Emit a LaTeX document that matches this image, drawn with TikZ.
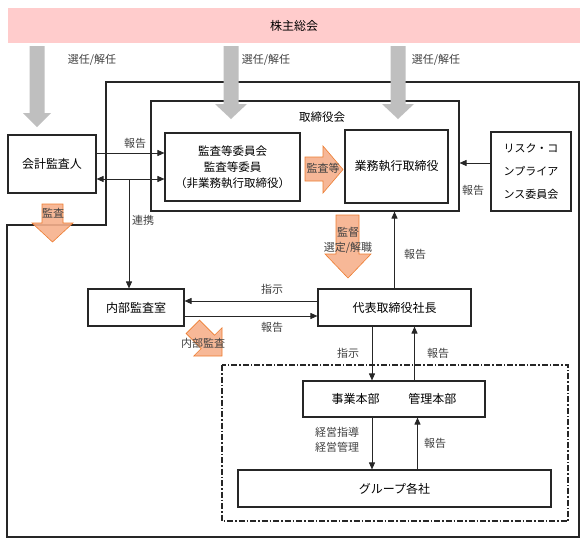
\documentclass[tikz,border=0pt]{standalone}
\usepackage{fontspec}
\setmainfont{Noto Sans CJK JP}
\usetikzlibrary{arrows.meta,calc}
\definecolor{pinkbar}{RGB}{255,204,204}
\definecolor{grayarr}{RGB}{191,191,191}
\definecolor{orfill}{RGB}{246,176,140}
\definecolor{ordraw}{RGB}{237,125,49}
\definecolor{lbltext}{RGB}{64,64,64}
\begin{document}
\begin{tikzpicture}[x=1pt,y=-1pt,
  box/.style={draw=black!85,line width=1.1pt,fill=white,inner sep=0pt,
    font=\fontsize{12}{15}\selectfont,align=center},
  lbl/.style={font=\fontsize{11}{12}\selectfont,text=lbltext,inner sep=0pt},
  arr/.style={line width=0.9pt,draw=black!85,-{Triangle[length=7pt,width=6pt]}},
  dbl/.style={line width=0.9pt,draw=black!85,{Triangle[length=7pt,width=6pt]}-{Triangle[length=7pt,width=6pt]}},
  grayblock/.style={fill=grayarr,draw=none},
  orblock/.style={fill=orfill,fill opacity=0.9,draw=ordraw,line width=0.6pt},
  frame/.style={draw=black!85,line width=1.3pt},
  group/.style={draw=black!85,line width=1.2pt,dash pattern=on 6pt off 2pt on 1.5pt off 2pt}
]
\useasboundingbox (0,0) rectangle (587,544);

% shareholders meeting
\node[fill=pinkbar,minimum width=572pt,minimum height=35pt,inner sep=0pt,
  font=\fontsize{12}{14}\selectfont] (soukai) at (294,25.5) {株主総会};

% outer frame
\draw[frame] (106,82) -- (579,82) -- (579,537) -- (7,537) -- (7,225) -- (106,225) -- cycle;

% group frame
\draw[group] (222,365) rectangle (568,521);

% boxes
\node[box,minimum width=308pt,minimum height=110pt] (torikai) at (305,156) {};
\node[font=\fontsize{11.5}{13}\selectfont,inner sep=0pt] (torikaiL) at (322,117) {取締役会};
\node[box,minimum width=135pt,minimum height=68pt,font=\fontsize{11.5}{16}\selectfont] (kansaiin) at (232.5,167) {監査等委員会\\監査等委員\\（非業務執行取締役）};
\node[box,minimum width=103pt,minimum height=73pt] (gyomu) at (396.5,166.5) {業務執行取締役};
\node[box,minimum width=80pt,minimum height=79pt,font=\fontsize{11}{23}\selectfont] (risk) at (531,171.5) {リスク・コ\\ンプライア\\ンス委員会};
\node[box,minimum width=88pt,minimum height=58pt] (kansanin) at (52,164) {会計監査人};
\node[box,minimum width=96pt,minimum height=37pt] (naibu) at (136,307.5) {内部監査室};
\node[box,minimum width=153pt,minimum height=37pt] (daihyo) at (394.5,307.5) {代表取締役社長};
\node[box,minimum width=182pt,minimum height=36pt] (honbu) at (394,399) {事業本部\hspace{29pt}管理本部};
\node[box,minimum width=313pt,minimum height=37pt] (group) at (394.5,488.5) {グループ各社};

% connectors
\coordinate (r1) at ([yshift=11pt]kansanin.east);
\draw[arr] (r1) -- (r1 -| kansaiin.west);
\coordinate (r2) at ([yshift=-15pt]kansanin.east);
\draw[dbl] (r2) -- (r2 -| kansaiin.west);
\coordinate (j1) at (129,179);
\draw[arr] (j1) -- (j1 |- naibu.north);
\coordinate (r3) at ([yshift=8.5pt]risk.west);
\draw[arr] (r3) -- (r3 -| torikai.east);
\draw[arr] (daihyo.north) -- (daihyo.north |- torikai.south);
\coordinate (r4) at ([yshift=6.5pt]daihyo.west);
\draw[arr] (r4) -- (r4 -| naibu.east);
\coordinate (r5) at ([yshift=-8.5pt]naibu.east);
\draw[arr] (r5) -- (r5 -| daihyo.west);
\coordinate (r6) at ([xshift=-22.5pt]daihyo.south);
\draw[arr] (r6) -- (r6 |- honbu.north);
\coordinate (r7) at ([xshift=20.5pt]honbu.north);
\draw[arr] (r7) -- (r7 |- daihyo.south);
\coordinate (r8) at ([xshift=-22pt]honbu.south);
\draw[arr] (r8) -- (r8 |- group.north);
\coordinate (r9) at ([xshift=23pt]group.north);
\draw[arr] (r9) -- (r9 |- honbu.south);

% gray block arrows
\fill[grayblock] (29.5,46) -- (44.5,46) -- (44.5,113) -- (51,113) -- (37,127) -- (23,113) -- (29.5,113) -- cycle;
\fill[grayblock] (223.5,46) -- (238.5,46) -- (238.5,104) -- (247,104) -- (231,119) -- (215,104) -- (223.5,104) -- cycle;
\fill[grayblock] (390.5,46) -- (405.5,46) -- (405.5,104) -- (414,104) -- (398,119) -- (382,104) -- (390.5,104) -- cycle;

% orange block arrows
\draw[orblock] (42,204) -- (63,204) -- (63,223) -- (73,223) -- (52.5,242) -- (32,223) -- (42,223) -- cycle;
\draw[orblock] (305,157) -- (323,157) -- (323,146) -- (343,169.5) -- (323,193) -- (323,181) -- (305,181) -- cycle;
\draw[orblock] (336,215) -- (359,215) -- (359,254) -- (371,254) -- (348,278) -- (325,254) -- (336,254) -- cycle;
\draw[orblock] (199.5,320.1) -- (214.6,335.2) -- (222,327.8) -- (222,356) -- (193.8,356) -- (201.2,348.6) -- (186.1,333.5) -- cycle;

% labels
\node[lbl] (l1) at (92,60) {選任/解任};
\node[lbl] (l2) at (266,60) {選任/解任};
\node[lbl] (l3) at (436,60) {選任/解任};
\node[lbl] (l4) at (135,143) {報告};
\node[lbl] (l5) at (143,220) {連携};
\node[lbl] (l6) at (473,190) {報告};
\node[lbl] (l7) at (323,168) {監査等};
\node[lbl,align=center,font=\fontsize{11}{15}\selectfont] (l8) at (348,240.5) {監督\\選定/解職};
\node[lbl] (l9) at (415,254) {報告};
\node[lbl] (l10) at (272,289) {指示};
\node[lbl] (l11) at (272,327) {報告};
\node[lbl] (l12) at (203,343) {内部監査};
\node[lbl] (l13) at (53,213) {監査};
\node[lbl] (l14) at (348,353) {指示};
\node[lbl] (l15) at (438,353) {報告};
\node[lbl,align=center,font=\fontsize{11}{15}\selectfont] (l16) at (337,439.5) {経営指導\\経営管理};
\node[lbl] (l17) at (435,443) {報告};
\end{tikzpicture}
\end{document}
